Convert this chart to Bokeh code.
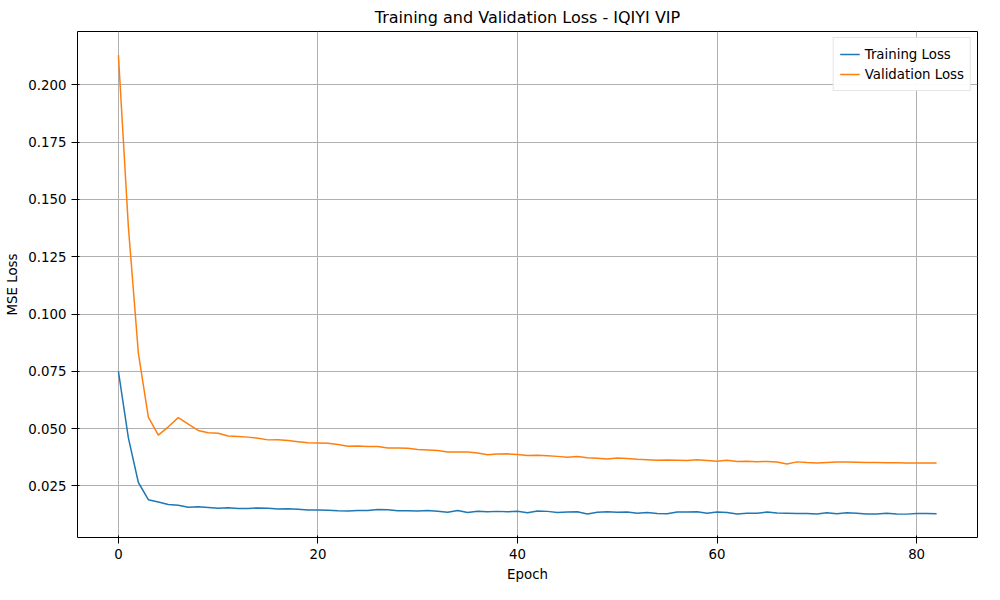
from bokeh.plotting import figure
from bokeh.embed import file_html
from bokeh.resources import INLINE
from bokeh.models import SingleIntervalTicker, PrintfTickFormatter

train_loss = [0.075, 0.046, 0.0265, 0.019, 0.018, 0.0169, 0.0166, 0.0157, 0.0159, 0.0156,
              0.0153, 0.0155, 0.0152, 0.0152, 0.0154, 0.0153, 0.0149, 0.0150, 0.0148, 0.0145,
              0.0145, 0.0144, 0.0142, 0.0141, 0.0143, 0.0143, 0.0147, 0.0146, 0.0142, 0.0142,
              0.0141, 0.0143, 0.0140, 0.0135, 0.0143, 0.0134, 0.0140, 0.0137, 0.0139, 0.0137,
              0.0140, 0.0133, 0.0141, 0.0139, 0.0134, 0.0136, 0.0137, 0.0128, 0.0135, 0.0137,
              0.0135, 0.0136, 0.0131, 0.0134, 0.0130, 0.0129, 0.0136, 0.0136, 0.0137, 0.0131,
              0.0136, 0.0134, 0.0128, 0.0131, 0.0131, 0.0136, 0.0132, 0.0131, 0.0130, 0.0130,
              0.0128, 0.0133, 0.0129, 0.0133, 0.0131, 0.0128, 0.0128, 0.0131, 0.0128, 0.0127,
              0.0130, 0.0130, 0.0129]
val_loss = [0.213, 0.138, 0.083, 0.055, 0.0472, 0.0508, 0.0548, 0.0520, 0.0492, 0.0482,
            0.0480, 0.0468, 0.0466, 0.0463, 0.0458, 0.0451, 0.0452, 0.0448, 0.0443, 0.0438,
            0.0437, 0.0436, 0.0431, 0.0423, 0.0424, 0.0422, 0.0422, 0.0416, 0.0416, 0.0414,
            0.0409, 0.0407, 0.0405, 0.0398, 0.0398, 0.0398, 0.0394, 0.0386, 0.0389, 0.0390,
            0.0387, 0.0383, 0.0384, 0.0382, 0.0379, 0.0375, 0.0378, 0.0373, 0.0371, 0.0368,
            0.0372, 0.0370, 0.0366, 0.0364, 0.0362, 0.0363, 0.0362, 0.0361, 0.0364, 0.0361,
            0.0358, 0.0362, 0.0357, 0.0358, 0.0356, 0.0357, 0.0354, 0.0346, 0.0355, 0.0352,
            0.0350, 0.0352, 0.0354, 0.0354, 0.0353, 0.0352, 0.0352, 0.0351, 0.0351, 0.0350,
            0.0350, 0.0350, 0.0350]
epochs = list(range(len(train_loss)))

p = figure(width=984, height=584, output_backend="svg", toolbar_location=None,
           title="Training and Validation Loss - IQIYI VIP",
           x_range=(-4.1, 86.1), y_range=(0.0025, 0.2233),
           x_axis_label="Epoch", y_axis_label="MSE Loss")
p.title.align = "center"
p.title.text_font = "DejaVu Sans"
p.title.text_font_size = "12pt"
p.title.text_font_style = "normal"
p.title.text_color = "black"

p.line(epochs, train_loss, line_color="#1f77b4", line_width=1.5, legend_label="Training Loss")
p.line(epochs, val_loss, line_color="#ff7f0e", line_width=1.5, legend_label="Validation Loss")

p.xaxis.ticker = SingleIntervalTicker(interval=20)
p.yaxis.ticker = SingleIntervalTicker(interval=0.025)
p.yaxis.formatter = PrintfTickFormatter(format="%.3f")
for ax in (p.xaxis[0], p.yaxis[0]):
    ax.axis_label_text_font = "DejaVu Sans"
    ax.axis_label_text_font_size = "10pt"
    ax.axis_label_text_font_style = "normal"
    ax.axis_label_text_color = "black"
    ax.major_label_text_font = "DejaVu Sans"
    ax.major_label_text_font_size = "10pt"
    ax.major_label_text_color = "black"
    ax.major_tick_line_color = "black"
    ax.minor_tick_line_color = None
    ax.axis_line_color = None
p.grid.grid_line_color = "#b0b0b0"
p.grid.grid_line_width = 1
p.outline_line_color = "black"
p.outline_line_width = 1
p.min_border_left = 77
p.min_border_right = 7
p.min_border_top = 8

p.legend.location = "top_right"
p.legend.label_text_font = "DejaVu Sans"
p.legend.label_text_font_size = "10pt"
p.legend.label_text_color = "black"
p.legend.border_line_color = "#cccccc"
p.legend.spacing = 0
p.legend.padding = 6
p.legend.margin = 6

open("out.html", "w").write(file_html(p, INLINE))
